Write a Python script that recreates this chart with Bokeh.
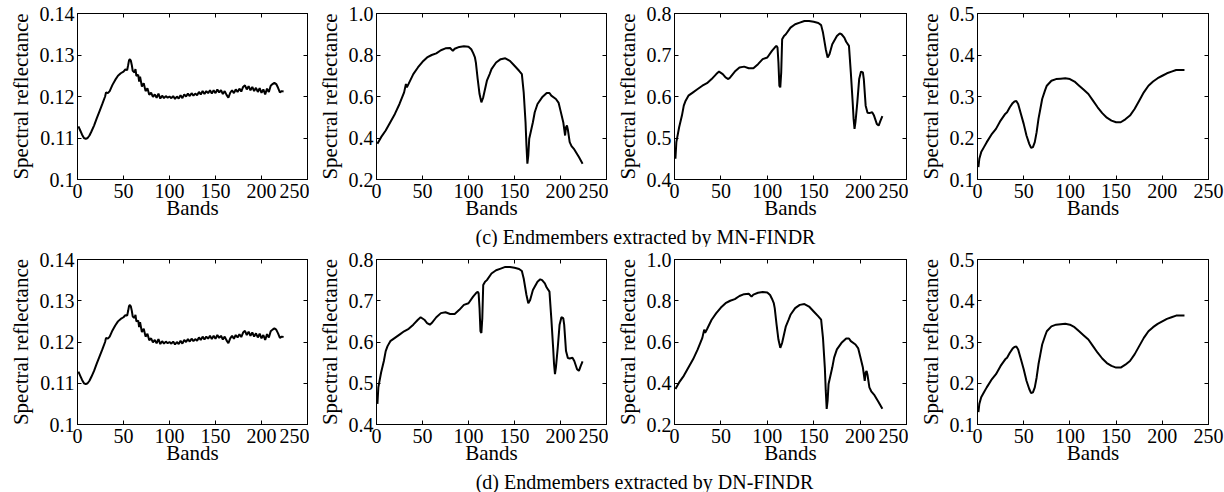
from bokeh.plotting import figure
from bokeh.models import Range1d, FixedTicker, LinearAxis, Label
from bokeh.layouts import column, row
from bokeh.embed import file_html
from bokeh.resources import INLINE

# ---------------- data ----------------
x_ticks = [0, 50, 100, 150, 200, 250]
x_tick_labels = ["0", "50", "100", "150", "200", "250"]
x_label = "Bands"
y_label = "Spectral reflectance"
title_c = "(c) Endmembers extracted by MN-FINDR"
title_d = "(d) Endmembers extracted by DN-FINDR"

# Endmember A (flat, noisy ~0.12)
bands_a = [1, 3, 5, 7, 9, 11, 13, 15, 18, 21, 24, 27, 30, 31, 33, 35, 38, 41, 44, 47,
           50, 52, 54, 55, 56, 57, 58, 59, 60, 62, 63, 64, 66, 67, 68, 70, 72, 74, 76, 78,
           80, 82, 84, 86, 88, 90, 92, 94, 96, 98, 100, 102, 104, 106, 108, 110, 112, 114,
           116, 118, 120, 122, 124, 126, 128, 130, 132, 134, 136, 138, 140, 142, 144, 146,
           148, 150, 152, 154, 156, 158, 160, 162, 164, 166, 168, 170, 172, 174, 176, 178,
           180, 182, 184, 186, 188, 190, 192, 194, 196, 198, 200, 202, 204, 206, 208, 210,
           212, 214, 216, 218, 220, 222, 224]
refl_a = [0.1128, 0.1118, 0.1108, 0.1100, 0.1098, 0.1100, 0.1106, 0.1115, 0.1130, 0.1148,
          0.1165, 0.1182, 0.1200, 0.1210, 0.1208, 0.1213, 0.1228, 0.1240, 0.1250, 0.1256,
          0.1260, 0.1265, 0.1264, 0.1275, 0.1287, 0.1290, 0.1286, 0.1276, 0.1262, 0.1258,
          0.1266, 0.1250, 0.1252, 0.1236, 0.1248, 0.1224, 0.1232, 0.1213, 0.1220, 0.1204,
          0.1209, 0.1199, 0.1205, 0.1197, 0.1207, 0.1195, 0.1202, 0.1196, 0.1201, 0.1197,
          0.1200, 0.1196, 0.1201, 0.1194, 0.1200, 0.1195, 0.1203, 0.1196, 0.1205, 0.1200,
          0.1207, 0.1201, 0.1208, 0.1202, 0.1207, 0.1203, 0.1211, 0.1205, 0.1213, 0.1206,
          0.1213, 0.1208, 0.1215, 0.1207, 0.1215, 0.1208, 0.1217, 0.1210, 0.1215, 0.1206,
          0.1213, 0.1204, 0.1197, 0.1209, 0.1215, 0.1208, 0.1217, 0.1211, 0.1219, 0.1212,
          0.1223, 0.1227, 0.1217, 0.1225, 0.1215, 0.1223, 0.1213, 0.1221, 0.1211, 0.1220,
          0.1209, 0.1217, 0.1205, 0.1219, 0.1211, 0.1226, 0.1230, 0.1233, 0.1230, 0.1221,
          0.1210, 0.1213, 0.1212]
yr_a = (0.10, 0.14)
yticks_a = [0.10, 0.11, 0.12, 0.13, 0.14]
ytick_labels_a = ["0.1", "0.11", "0.12", "0.13", "0.14"]

# Endmember B (0.2 - 1.0)
bands_b = [1, 5, 10, 15, 20, 25, 30, 32, 33, 35, 40, 45, 50, 55, 60, 65, 70, 75, 80, 83,
           85, 90, 95, 100, 103, 105, 107, 108, 110, 112, 114, 116, 118, 120, 123, 125,
           130, 135, 140, 145, 150, 155, 158, 160, 162, 163, 164, 165, 166, 168, 170, 172,
           175, 180, 185, 188, 190, 195, 198, 200, 203, 205, 206, 207, 208, 210, 212, 215,
           220, 224]
refl_b = [0.372, 0.404, 0.436, 0.476, 0.516, 0.564, 0.620, 0.660, 0.644, 0.662, 0.708,
          0.740, 0.767, 0.788, 0.800, 0.808, 0.823, 0.832, 0.834, 0.820, 0.830, 0.839,
          0.842, 0.840, 0.828, 0.810, 0.788, 0.764, 0.684, 0.612, 0.572, 0.596, 0.636,
          0.676, 0.708, 0.732, 0.764, 0.780, 0.784, 0.772, 0.748, 0.724, 0.708, 0.620,
          0.476, 0.364, 0.276, 0.316, 0.396, 0.436, 0.476, 0.524, 0.564, 0.596, 0.617,
          0.617, 0.604, 0.588, 0.569, 0.532, 0.476, 0.412, 0.452, 0.460, 0.440, 0.380,
          0.361, 0.345, 0.308, 0.276]
yr_b = (0.2, 1.0)
yticks_b = [0.2, 0.4, 0.6, 0.8, 1.0]
ytick_labels_b = ["0.2", "0.4", "0.6", "0.8", "1.0"]

# Endmember C (0.4 - 0.8)
bands_c = [1, 2, 3, 5, 8, 10, 12, 15, 20, 25, 30, 35, 40, 45, 48, 52, 55, 58, 60, 65, 70,
           75, 80, 85, 90, 95, 100, 105, 108, 110, 111, 112, 113, 114, 115, 116, 118, 120,
           125, 130, 135, 140, 145, 150, 155, 158, 160, 163, 165, 167, 170, 175, 178, 180,
           183, 185, 188, 190, 192, 193, 194, 195, 197, 199, 201, 203, 204, 206, 208, 210,
           213, 215, 218, 220, 222, 224]
refl_c = [0.450, 0.490, 0.502, 0.526, 0.554, 0.578, 0.590, 0.602, 0.610, 0.618, 0.626,
          0.632, 0.642, 0.654, 0.660, 0.654, 0.646, 0.642, 0.646, 0.660, 0.670, 0.672,
          0.668, 0.668, 0.678, 0.690, 0.694, 0.710, 0.718, 0.722, 0.718, 0.682, 0.626,
          0.622, 0.658, 0.738, 0.746, 0.750, 0.766, 0.774, 0.778, 0.782, 0.782, 0.780,
          0.777, 0.772, 0.754, 0.714, 0.694, 0.702, 0.726, 0.746, 0.752, 0.750, 0.742,
          0.732, 0.722, 0.658, 0.586, 0.546, 0.522, 0.538, 0.586, 0.642, 0.660, 0.658,
          0.642, 0.578, 0.561, 0.560, 0.562, 0.554, 0.534, 0.530, 0.542, 0.553]
yr_c = (0.4, 0.8)
yticks_c = [0.4, 0.5, 0.6, 0.7, 0.8]
ytick_labels_c = ["0.4", "0.5", "0.6", "0.7", "0.8"]

# Endmember D (0.1 - 0.5)
bands_d = [1, 2, 4, 7, 10, 15, 20, 25, 30, 32, 35, 38, 40, 42, 44, 47, 50, 53, 56, 58, 60,
           62, 64, 66, 68, 70, 73, 75, 80, 85, 90, 95, 100, 105, 110, 115, 120, 125, 130,
           135, 140, 145, 150, 155, 160, 165, 170, 175, 180, 185, 190, 195, 200, 205, 210,
           215, 220, 224]
refl_d = [0.130, 0.150, 0.166, 0.178, 0.190, 0.208, 0.222, 0.242, 0.258, 0.262, 0.274,
          0.284, 0.288, 0.289, 0.282, 0.258, 0.234, 0.206, 0.186, 0.176, 0.178, 0.190,
          0.214, 0.246, 0.270, 0.294, 0.314, 0.326, 0.338, 0.342, 0.343, 0.344, 0.342,
          0.336, 0.326, 0.316, 0.306, 0.290, 0.274, 0.260, 0.249, 0.242, 0.238, 0.238,
          0.245, 0.254, 0.270, 0.290, 0.310, 0.326, 0.336, 0.344, 0.350, 0.356, 0.360,
          0.364, 0.364, 0.364]
yr_d = (0.1, 0.5)
yticks_d = [0.1, 0.2, 0.3, 0.4, 0.5]
ytick_labels_d = ["0.1", "0.2", "0.3", "0.4", "0.5"]

# ---------------- styling ----------------
FONT = "Liberation Serif"
TICK_FS = "20px"
LABEL_FS = "21px"
TITLE_FS = "20px"


def style_axis(ax, labels_map, show_labels=True):
    ax.major_tick_in = 4
    ax.major_tick_out = 0
    ax.minor_tick_line_color = None
    ax.axis_line_color = "black"
    ax.major_tick_line_color = "black"
    if show_labels:
        ax.major_label_overrides = labels_map
        ax.major_label_text_font = FONT
        ax.major_label_text_font_size = TICK_FS
        ax.major_label_text_color = "black"
    else:
        ax.major_label_overrides = {k: "" for k in labels_map}
        ax.major_label_text_font_size = "0px"
        ax.major_label_standoff = 0


def panel(bands, refl, yr, yticks, ylabels, bl, fw, br, bt, fh, bb):
    p = figure(width=bl + fw + br, height=bt + fh + bb,
               x_range=Range1d(0, 250), y_range=Range1d(*yr),
               output_backend="svg", toolbar_location=None,
               min_border_left=bl, min_border_right=br,
               min_border_top=bt, min_border_bottom=bb)
    p.grid.visible = False
    p.outline_line_color = "black"
    p.outline_line_width = 1
    p.background_fill_color = "white"
    p.border_fill_color = "white"

    xmap = {t: s for t, s in zip(x_ticks, x_tick_labels)}
    ymap = {t: s for t, s in zip(yticks, ylabels)}

    p.xaxis.ticker = FixedTicker(ticks=x_ticks)
    p.yaxis.ticker = FixedTicker(ticks=yticks)
    style_axis(p.xaxis[0], xmap)
    style_axis(p.yaxis[0], ymap)
    p.xaxis.major_label_standoff = 4
    p.yaxis.major_label_standoff = 3

    p.xaxis.axis_label = x_label
    p.yaxis.axis_label = y_label
    for ax in (p.xaxis[0], p.yaxis[0]):
        ax.axis_label_text_font = FONT
        ax.axis_label_text_font_size = LABEL_FS
        ax.axis_label_text_font_style = "normal"
        ax.axis_label_text_color = "black"
    p.xaxis.axis_label_standoff = -5
    p.yaxis.axis_label_standoff = 4

    top_ax = LinearAxis(ticker=FixedTicker(ticks=x_ticks))
    style_axis(top_ax, xmap, show_labels=False)
    p.add_layout(top_ax, "above")
    right_ax = LinearAxis(ticker=FixedTicker(ticks=yticks))
    style_axis(right_ax, ymap, show_labels=False)
    p.add_layout(right_ax, "right")

    p.line(bands, refl, line_color="black", line_width=2)
    return p


def title_fig(text, width, height, cx):
    t = figure(width=width, height=height, x_range=Range1d(0, 1), y_range=Range1d(0, 1),
               output_backend="svg", toolbar_location=None,
               min_border_left=0, min_border_right=0, min_border_top=0, min_border_bottom=0)
    t.axis.visible = False
    t.grid.visible = False
    t.outline_line_color = None
    t.add_layout(Label(x=cx, y=height / 2, x_units="screen", y_units="screen", text=text,
                       text_font=FONT, text_font_size=TITLE_FS, text_color="black",
                       text_align="center", text_baseline="middle"))
    return t


# column layouts: (left border, frame width, right border)
cols = [(77, 230, 2), (67, 230, 2), (66, 232, 2), (69, 231, 16)]
total_w = sum(a + b + c for a, b, c in cols)
# row layouts: (top border, frame height, bottom border)
row1_v = (13, 166, 46)
row2_v = (12, 165, 46)
TITLE_H = 22

row1_data = [(bands_a, refl_a, yr_a, yticks_a, ytick_labels_a),
             (bands_b, refl_b, yr_b, yticks_b, ytick_labels_b),
             (bands_c, refl_c, yr_c, yticks_c, ytick_labels_c),
             (bands_d, refl_d, yr_d, yticks_d, ytick_labels_d)]
row2_data = [(bands_a, refl_a, yr_a, yticks_a, ytick_labels_a),
             (bands_c, refl_c, yr_c, yticks_c, ytick_labels_c),
             (bands_b, refl_b, yr_b, yticks_b, ytick_labels_b),
             (bands_d, refl_d, yr_d, yticks_d, ytick_labels_d)]

r1 = row(*[panel(*d, *c, *row1_v) for d, c in zip(row1_data, cols)], spacing=0)
r2 = row(*[panel(*d, *c, *row2_v) for d, c in zip(row2_data, cols)], spacing=0)
tc = title_fig(title_c, total_w, TITLE_H, 645)
td = title_fig(title_d, total_w, TITLE_H, 644)

layout = column(r1, tc, r2, td, spacing=0)

open("out.html", "w").write(file_html(layout, INLINE))
